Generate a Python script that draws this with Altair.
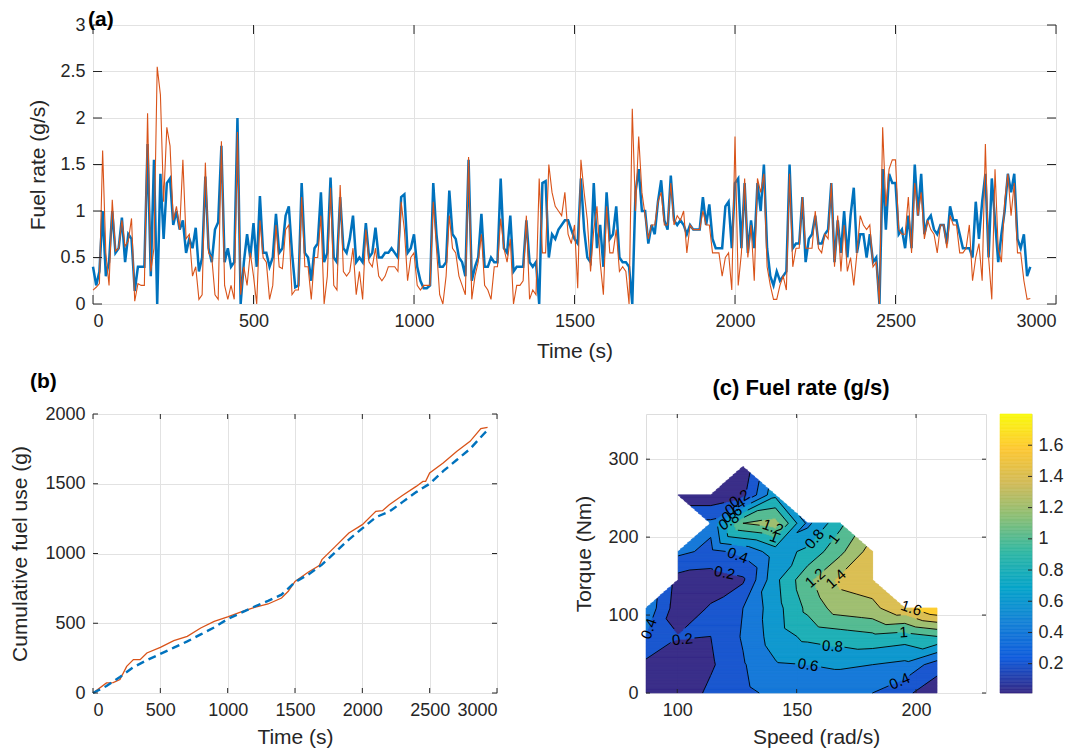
import bisect
import math

import altair as alt
import numpy as np
import pandas as pd

FONT = "Liberation Sans"
INK = "#262626"
GRID = "#e2e2e2"
BLUE = "#0072BD"
ORANGE = "#D95319"

# ---------------- (a) fuel rate time series (sampled every 10 s) ----------------
a_time = list(range(0, 2921, 10))
a_blue = [
    0.40, 0.20, 0.35, 1.00, 0.30, 0.45, 1.00, 0.55, 0.60, 0.93,
    0.45, 0.75, 0.70, 0.14, 0.40, 0.40, 0.40, 1.72, 0.30, 1.55,
    0.00, 1.40, 0.70, 1.30, 1.35, 0.85, 1.00, 0.80, 0.90, 0.55,
    0.70, 0.60, 0.82, 0.35, 0.50, 1.37, 0.60, 0.45, 0.80, 0.88,
    1.70, 0.45, 0.60, 0.40, 0.45, 2.00, 0.00, 0.45, 0.75, 0.50,
    0.87, 0.40, 1.16, 0.55, 0.55, 0.40, 0.50, 0.97, 0.55, 0.60,
    0.95, 1.05, 0.55, 0.18, 0.20, 1.30, 0.55, 0.50, 0.25, 0.60,
    0.65, 1.20, 0.45, 0.55, 1.36, 0.50, 0.45, 1.15, 0.60, 0.55,
    0.70, 0.95, 0.45, 0.50, 0.45, 0.87, 0.50, 0.55, 0.82, 0.50,
    0.50, 0.55, 0.55, 0.60, 0.55, 0.50, 1.15, 1.18, 0.55, 0.60,
    0.75, 0.40, 0.25, 0.17, 0.17, 0.20, 1.30, 0.75, 0.40, 0.40,
    0.45, 1.22, 0.75, 0.70, 0.50, 0.45, 0.30, 1.55, 0.25, 0.40,
    0.50, 0.97, 0.40, 0.40, 0.50, 0.45, 0.45, 1.35, 0.60, 0.55,
    0.95, 0.35, 0.40, 0.40, 0.40, 0.90, 0.45, 0.40, 0.45, 0.00,
    1.30, 1.32, 0.50, 0.75, 0.70, 0.80, 0.85, 0.90, 0.90, 0.80,
    0.70, 0.65, 1.35, 0.80, 0.50, 0.45, 1.30, 0.60, 0.85, 0.40,
    1.20, 0.70, 0.75, 1.05, 0.50, 0.45, 0.45, 0.40, 0.00, 1.20,
    1.45, 1.00, 1.00, 0.65, 0.85, 0.75, 1.10, 1.33, 0.90, 0.80,
    1.38, 0.90, 0.85, 0.90, 0.85, 0.75, 0.85, 0.80, 0.80, 0.80,
    1.15, 0.85, 1.07, 0.70, 0.60, 0.60, 0.60, 1.05, 1.10, 0.60,
    1.30, 1.35, 0.60, 1.30, 0.55, 0.90, 0.60, 1.30, 1.00, 1.50,
    0.60, 0.30, 0.20, 0.35, 0.25, 0.30, 0.35, 1.50, 0.60, 0.65,
    0.65, 1.15, 0.45, 0.70, 0.75, 0.95, 0.65, 0.65, 0.75, 0.80,
    1.30, 0.45, 0.90, 0.55, 1.00, 0.50, 0.95, 1.25, 0.55, 0.75,
    0.75, 0.50, 0.75, 0.45, 0.50, 0.00, 1.45, 0.80, 1.40, 1.30,
    1.30, 0.75, 0.80, 0.60, 0.95, 0.60, 1.50, 0.95, 1.40, 0.75,
    0.90, 0.95, 0.80, 0.75, 0.85, 0.85, 0.65, 1.05, 0.90, 0.90,
    0.75, 0.60, 0.60, 0.60, 0.50, 1.10, 0.70, 1.10, 1.40, 0.50,
    1.35, 0.90, 0.45, 0.75, 1.00, 1.40, 1.20, 1.40, 0.70, 0.60,
    0.75, 0.30, 0.40,
]
a_orange = [
    0.15, 0.18, 0.22, 1.65, 0.55, 0.20, 1.12, 0.57, 0.60, 0.90,
    0.62, 0.68, 0.92, 0.03, 0.22, 0.20, 0.20, 2.05, 0.35, 0.60,
    2.55, 2.25, 1.10, 1.90, 1.70, 0.90, 1.05, 0.80, 1.55, 0.70,
    0.75, 0.30, 0.40, 0.05, 0.10, 1.52, 0.55, 0.50, 0.10, 0.05,
    1.75, 0.20, 0.05, 0.20, 0.05, 1.85, 0.10, 0.40, 0.20, 0.55,
    0.30, 0.00, 0.90, 0.50, 0.45, 0.05, 0.20, 0.85, 0.40, 0.38,
    0.80, 0.85, 0.10, 0.15, 0.15, 1.15, 0.40, 0.40, 0.05, 0.50,
    0.50, 0.95, 0.00, 0.30, 1.25, 0.20, 0.15, 1.28, 0.35, 0.30,
    0.35, 0.60, 0.10, 0.35, 0.05, 0.80, 0.45, 0.40, 0.60, 0.30,
    0.25, 0.30, 0.40, 0.40, 0.40, 0.35, 1.10, 0.80, 0.25, 0.50,
    0.55, 0.20, 0.15, 0.20, 0.20, 0.20, 1.10, 0.60, 0.10, 0.00,
    0.30, 0.95, 0.60, 0.55, 0.30, 0.20, 0.10, 1.58, 0.05, 0.30,
    0.45, 0.75, 0.20, 0.15, 0.05, 0.40, 0.40, 0.92, 0.60, 0.45,
    0.70, 0.00, 0.20, 0.20, 0.25, 0.95, 0.05, 0.15, 0.10, 1.35,
    0.55, 0.55, 1.50, 1.20, 1.05, 1.00, 0.95, 1.20, 0.75, 0.65,
    0.85, 0.17, 1.55, 1.20, 0.90, 0.35, 0.80, 1.05, 0.45, 0.10,
    1.05, 0.55, 0.55, 0.80, 0.35, 0.40, 0.35, 0.00, 2.10, 1.00,
    1.80, 1.20, 0.95, 0.70, 0.85, 0.85, 1.10, 1.20, 0.85, 0.85,
    1.30, 0.85, 0.95, 0.90, 1.00, 0.55, 0.85, 0.80, 0.80, 0.80,
    1.00, 0.85, 0.85, 0.55, 0.55, 0.55, 0.30, 0.50, 0.55, 0.15,
    1.80, 0.20, 0.55, 1.35, 0.50, 0.85, 0.25, 1.35, 1.20, 1.40,
    0.40, 0.20, 0.05, 0.05, 0.20, 0.30, 0.15, 1.40, 0.40, 0.60,
    0.60, 1.15, 0.60, 0.60, 0.60, 1.00, 0.60, 0.55, 0.75, 0.70,
    1.30, 0.40, 0.95, 0.35, 0.85, 0.35, 0.50, 0.20, 0.55, 0.95,
    0.85, 0.80, 0.85, 0.40, 0.45, 0.00, 1.90, 1.05, 1.45, 1.55,
    1.55, 0.80, 0.75, 0.75, 1.15, 0.55, 1.30, 0.95, 1.20, 0.70,
    0.90, 0.80, 0.75, 0.55, 0.85, 0.85, 0.60, 0.95, 0.85, 0.85,
    0.55, 0.55, 0.60, 0.85, 0.25, 0.50, 0.65, 0.25, 1.72, 0.50,
    0.05, 1.45, 0.60, 0.45, 1.10, 1.40, 0.95, 1.30, 0.55, 0.55,
    0.25, 0.05, 0.06,
]
a_xticks = [0, 500, 1000, 1500, 2000, 2500, 3000]
a_yticks = [0, 0.5, 1, 1.5, 2, 2.5, 3]

# ---------------- (b) cumulative fuel use ----------------
b_time_orange = [0, 100, 150, 200, 250, 300, 350, 400, 500, 600, 700, 800, 900, 1000,
                 1100, 1200, 1300, 1400, 1450, 1500, 1600, 1680, 1700, 1800, 1900,
                 2000, 2100, 2150, 2200, 2300, 2400, 2450, 2470, 2500, 2600, 2700,
                 2800, 2880, 2930]
b_orange = [0, 72, 75, 96, 191, 239, 239, 287, 327, 375, 406, 466, 514, 545,
            581, 614, 638, 681, 729, 800, 867, 913, 956, 1051, 1147,
            1207, 1302, 1307, 1350, 1417, 1481, 1517, 1517, 1577, 1649, 1732,
            1804, 1895, 1904]
b_time_blue = [0, 100, 200, 300, 400, 500, 600, 700, 800, 900, 1000, 1100, 1200,
               1300, 1400, 1500, 1600, 1700, 1800, 1900, 2000, 2100, 2200, 2300,
               2400, 2500, 2600, 2700, 2800, 2900, 2926]
b_blue = [0, 50, 115, 185, 235, 280, 325, 370, 420, 470, 530, 575, 620,
          660, 705, 795, 850, 920, 1010, 1100, 1180, 1260, 1300, 1370,
          1440, 1500, 1590, 1670, 1750, 1855, 1880]
b_xticks = [0, 500, 1000, 1500, 2000, 2500, 3000]
b_yticks = [0, 500, 1000, 1500, 2000]

# ---------------- (c) fuel-rate map (node values, None = no data) ----------------
c_speed = [86.9, 100.4, 114.0, 127.5, 141.1, 154.6, 168.2, 181.7, 195.3, 208.8]
c_torque = [0, 36.3, 72.6, 108.9, 145.2, 181.5, 217.8, 254.1, 290.4]
N = None
c_fuel = [
    [0.05, 0.15, 0.40, 0.55, N, N, N, N, N],
    [0.05, 0.12, 0.21, 0.08, 0.12, 0.45, N, 0.05, N],
    [0.25, 0.17, 0.20, 0.22, 0.10, 0.35, 0.45, 0.05, N],
    [0.35, 0.38, 0.42, 0.40, 0.17, 0.45, 1.20, 0.15, 0.05],
    [0.45, 0.58, 0.70, 0.72, 0.75, 0.70, 1.30, 0.75, N],
    [0.50, 0.60, 0.85, 1.05, 1.15, 0.85, 0.55, N, N],
    [0.50, 0.62, 0.90, 1.30, 1.45, 1.15, 0.95, N, N],
    [0.40, 0.60, 0.95, 1.35, 1.50, 1.50, N, N, N],
    [0.25, 0.55, 0.90, 1.55, N, N, N, N, N],
    [0.05, 0.30, 1.00, 1.80, N, N, N, N, N],
]
c_levels = [0.2, 0.4, 0.6, 0.8, 1.0, 1.2, 1.4, 1.6]
c_zmin, c_zmax = 0.012, 1.8
# contour label anchors: (level, speed, torque)
c_labels = [
    (0.2, 126.5, 247), (0.4, 124.5, 238), (0.6, 123.0, 229), (0.8, 121.5, 221),
    (1.2, 140.4, 216), (1.0, 140.4, 199), (0.8, 155.8, 202), (1.0, 165.6, 198),
    (0.4, 124.4, 169), (0.2, 119.5, 150), (1.2, 156.5, 152), (1.4, 166.9, 145),
    (1.6, 193.4, 103), (1.0, 194.8, 79), (0.8, 164.9, 54), (0.6, 154.4, 29),
    (0.4, 193.4, 13), (0.4, 93.0, 77), (0.2, 102.0, 73),
]
c_xticks = [100, 150, 200]
c_yticks = [0, 100, 200, 300]
cbar_ticks = [0.2, 0.4, 0.6, 0.8, 1.0, 1.2, 1.4, 1.6]
parula = ["#352a87", "#0f5cdd", "#1481d6", "#06a4ca", "#2eb7a4",
          "#87bf77", "#d1bb59", "#fec832", "#f9fb0e"]

# ---------------- layout sizes ----------------
WA, HA = 963, 279
WB, HB = 404, 279
WC, HC = 340, 279
WCB = 32
CX = [86.9, 229.3]
CY = [0, 358]


def axis(**kw):
    base = dict(grid=True, gridColor=GRID, ticks=False, tickSize=0, domain=False,
                labelFont=FONT, labelFontSize=18, labelColor=INK, labelPadding=8,
                titleFont=FONT, titleFontSize=21, titleFontWeight="normal",
                titleColor=INK, titleBaseline="middle", format="~g")
    base.update(kw)
    return alt.Axis(**base)


def inward_ticks(xvals, yvals, xenc, yenc, W, H, L, right=True, top=True, left=True, bottom=True):
    """xenc/yenc: dicts with scale, title and axis shared with the main layer."""
    xdf = pd.DataFrame({"tv": xvals})
    ydf = pd.DataFrame({"tv": yvals})
    out = []
    if bottom:
        out.append(alt.Chart(xdf).mark_rule(color=INK, strokeWidth=1).encode(
            x=alt.X("tv:Q", **xenc), y=alt.value(H), y2=alt.value(H - L)))
    if top:
        out.append(alt.Chart(xdf).mark_rule(color=INK, strokeWidth=1).encode(
            x=alt.X("tv:Q", **xenc), y=alt.value(0), y2=alt.value(L)))
    if left:
        out.append(alt.Chart(ydf).mark_rule(color=INK, strokeWidth=1).encode(
            y=alt.Y("tv:Q", **yenc), x=alt.value(0), x2=alt.value(L)))
    if right:
        out.append(alt.Chart(ydf).mark_rule(color=INK, strokeWidth=1).encode(
            y=alt.Y("tv:Q", **yenc), x=alt.value(W - L), x2=alt.value(W)))
    return out


def label(text, px, py, size=21, bold=True, align="left"):
    return alt.Chart(pd.DataFrame({"t": [text]})).mark_text(
        font=FONT, fontSize=size, fontWeight="bold" if bold else "normal",
        align=align, baseline="middle", color="black").encode(
        text="t:N", x=alt.value(px), y=alt.value(py))


# ---------------- panel (a) ----------------
xa = dict(scale=alt.Scale(domain=[0, 3000], nice=False, zero=False), title="Time (s)",
          axis=axis(values=a_xticks, titleY=47, format="d"))
ya = dict(scale=alt.Scale(domain=[0, 3], nice=False), title="Fuel rate (g/s)",
          axis=axis(values=a_yticks, titleX=-55))
df_a = pd.DataFrame({"t": a_time, "blue": a_blue, "orange": a_orange})
a_blue_line = alt.Chart(df_a).mark_line(color=BLUE, strokeWidth=2.5).encode(
    x=alt.X("t:Q", **xa), y=alt.Y("blue:Q", **ya))
a_orange_line = alt.Chart(df_a).mark_line(color=ORANGE, strokeWidth=1.1).encode(
    x=alt.X("t:Q", **xa), y=alt.Y("orange:Q", **ya))
panel_a = alt.layer(
    a_blue_line, a_orange_line,
    *inward_ticks(a_xticks, a_yticks, xa, ya, WA, HA, 9),
    label("(a)", -5, -5),
).properties(width=WA, height=HA)

# ---------------- panel (b) ----------------
xb = dict(scale=alt.Scale(domain=[0, 3000], nice=False, zero=False), title="Time (s)",
          axis=axis(values=b_xticks, titleY=44, format="d"))
yb = dict(scale=alt.Scale(domain=[0, 2000], nice=False), title="Cumulative fuel use (g)",
          axis=axis(values=b_yticks, titleX=-73, format="d"))
df_bo = pd.DataFrame({"t": b_time_orange, "v": b_orange})
df_bb = pd.DataFrame({"t": b_time_blue, "v": b_blue})
b_or = alt.Chart(df_bo).mark_line(color=ORANGE, strokeWidth=1.3).encode(
    x=alt.X("t:Q", **xb), y=alt.Y("v:Q", **yb))
b_bl = alt.Chart(df_bb).mark_line(color=BLUE, strokeWidth=2.4, strokeDash=[8, 5]).encode(
    x=alt.X("t:Q", **xb), y=alt.Y("v:Q", **yb))
panel_b = alt.layer(
    b_or, b_bl,
    *inward_ticks(b_xticks, b_yticks, xb, yb, WB, HB, 5),
    label("(b)", -63, -32),
).properties(width=WB, height=HB)

# ---------------- panel (c): piecewise-linear fill on the node triangulation ----------------
S, T, Z = c_speed, c_torque, c_fuel
cell_tris = {}
all_tris = []
for i in range(len(S) - 1):
    for j in range(len(T) - 1):
        BL, BR, TL, TR = (i, j), (i + 1, j), (i, j + 1), (i + 1, j + 1)
        ok = {k: Z[k[0]][k[1]] is not None for k in (BL, BR, TL, TR)}
        n = sum(ok.values())
        tris = []
        if n == 4:
            tris = [(BL, BR, TR), (BL, TR, TL)]
        elif n == 3:
            tris = [tuple(k for k in (BL, BR, TR, TL) if ok[k])]
        pts = [[(S[a], T[b], Z[a][b]) for (a, b) in tri] for tri in tris]
        cell_tris[(i, j)] = pts
        all_tris.extend(pts)


def interp(s, t):
    i = min(max(bisect.bisect_right(S, s) - 1, 0), len(S) - 2)
    j = min(max(bisect.bisect_right(T, t) - 1, 0), len(T) - 2)
    for (p1, p2, p3) in cell_tris[(i, j)]:
        det = (p2[1] - p3[1]) * (p1[0] - p3[0]) + (p3[0] - p2[0]) * (p1[1] - p3[1])
        l1 = ((p2[1] - p3[1]) * (s - p3[0]) + (p3[0] - p2[0]) * (t - p3[1])) / det
        l2 = ((p3[1] - p1[1]) * (s - p3[0]) + (p1[0] - p3[0]) * (t - p3[1])) / det
        l3 = 1 - l1 - l2
        if l1 >= -1e-9 and l2 >= -1e-9 and l3 >= -1e-9:
            return l1 * p1[2] + l2 * p2[2] + l3 * p3[2]
    return None


def band(v):
    rep = c_zmin
    for L in c_levels:
        if v >= L:
            rep = L
    return rep


ns = int(round((S[-1] - S[0]) / 0.5))
nt = int(round((T[-1] - T[0]) / 1.0))
ds = (S[-1] - S[0]) / ns
dt = (T[-1] - T[0]) / nt
rects = []
for jj in range(nt):
    t0, t1 = T[0] + jj * dt, T[0] + (jj + 1) * dt
    tc = 0.5 * (t0 + t1)
    run_start, run_val = None, None
    for ii in range(ns + 1):
        if ii < ns:
            sc = S[0] + (ii + 0.5) * ds
            v = interp(sc, tc)
            b = None if v is None else band(v)
        else:
            b = None
        if b != run_val:
            if run_val is not None:
                rects.append((S[0] + run_start * ds, S[0] + ii * ds, t0, t1, run_val))
            run_start, run_val = ii, b
df_fill = pd.DataFrame(rects, columns=["s0", "s1", "t0", "t1", "rep"])

# contour segments (marching triangles)
segs = []
for tri in all_tris:
    for L in c_levels:
        cross = []
        for a, b in ((0, 1), (1, 2), (2, 0)):
            za, zb = tri[a][2] - L, tri[b][2] - L
            if (za < 0) != (zb < 0):
                f = za / (za - zb)
                cross.append((tri[a][0] + f * (tri[b][0] - tri[a][0]),
                              tri[a][1] + f * (tri[b][1] - tri[a][1])))
        if len(cross) == 2:
            segs.append((L, cross[0], cross[1]))

kx = WC / (CX[1] - CX[0])
ky = HC / (CY[1] - CY[0])


def to_px(s, t):
    return ((s - CX[0]) * kx, (CY[1] - t) * ky)


lab_rows = []
for (L, s, t) in c_labels:
    px, py = to_px(s, t)
    best = None
    for (LL, p, q) in segs:
        if abs(LL - L) > 1e-9:
            continue
        ax, ay = to_px(*p)
        bx, by = to_px(*q)
        vx, vy = bx - ax, by - ay
        l2 = vx * vx + vy * vy
        u = 0.5 if l2 == 0 else max(0.0, min(1.0, ((px - ax) * vx + (py - ay) * vy) / l2))
        cx, cy = ax + u * vx, ay + u * vy
        d = math.hypot(px - cx, py - cy)
        if best is None or d < best[0]:
            best = (d, cx, cy, vx, vy)
    ang = 0.0
    if best is not None and best[0] < 30:
        _, px, py, vx, vy = best
        ang = math.degrees(math.atan2(vy, vx))
        if ang > 90:
            ang -= 180
        if ang <= -90:
            ang += 180
    txt = f"{L:g}"
    width = 15 * (0.556 * sum(ch.isdigit() for ch in txt) + 0.278 * txt.count("."))
    lab_rows.append(dict(s=CX[0] + px / kx, t=CY[1] - py / ky, txt=txt,
                         ang=ang % 360, px=px, py=py, r=width / 2 + 2))
df_lab = pd.DataFrame(lab_rows)

# cut the contour lines under the labels
line_rows = []
for (L, p, q) in segs:
    ax, ay = to_px(*p)
    bx, by = to_px(*q)
    nsub = 12
    keep = []
    for k in range(nsub):
        mx = ax + (k + 0.5) / nsub * (bx - ax)
        my = ay + (k + 0.5) / nsub * (by - ay)
        hide = any(math.hypot(mx - r["px"], my - r["py"]) < r["r"] for r in lab_rows)
        keep.append(not hide)
    k = 0
    while k < nsub:
        if keep[k]:
            k0 = k
            while k < nsub and keep[k]:
                k += 1
            f0, f1 = k0 / nsub, k / nsub
            line_rows.append(dict(
                s0=p[0] + f0 * (q[0] - p[0]), t0=p[1] + f0 * (q[1] - p[1]),
                s1=p[0] + f1 * (q[0] - p[0]), t1=p[1] + f1 * (q[1] - p[1])))
        else:
            k += 1
df_lines = pd.DataFrame(line_rows)

xc = dict(scale=alt.Scale(domain=CX, nice=False, zero=False), title="Speed (rad/s)",
          axis=axis(values=c_xticks, titleY=44, format="d"))
yc = dict(scale=alt.Scale(domain=CY, nice=False, zero=False), title="Torque (Nm)",
          axis=axis(values=c_yticks, titleX=-62, format="d"))
cscale = alt.Scale(domain=list(np.linspace(c_zmin, c_zmax, len(parula))),
                   range=parula, interpolate="rgb")

c_fill = alt.Chart(df_fill).mark_rect(strokeWidth=0.6).encode(
    x=alt.X("s0:Q", **xc), x2="s1:Q",
    y=alt.Y("t0:Q", **yc), y2="t1:Q",
    color=alt.Color("rep:Q", scale=cscale, legend=None),
    stroke=alt.Stroke("rep:Q", scale=cscale, legend=None),
)
c_cont = alt.Chart(df_lines).mark_rule(color="black", strokeWidth=0.9).encode(
    x=alt.X("s0:Q", **xc), x2="s1:Q", y=alt.Y("t0:Q", **yc), y2="t1:Q")
c_text = alt.Chart(df_lab).mark_text(font=FONT, fontSize=15, color="black",
                                     align="center", baseline="middle").encode(
    x=alt.X("s:Q", **xc), y=alt.Y("t:Q", **yc), text="txt:N",
    angle=alt.Angle("ang:Q", scale=None))
panel_c = alt.layer(
    c_fill, c_cont, c_text,
    *inward_ticks(c_xticks, c_yticks, xc, yc, WC, HC, 4),
    label("(c) Fuel rate (g/s)", 155, -26, size=22, align="center"),
).properties(width=WC, height=HC)

# ---------------- colour bar ----------------
cb_v = np.linspace(c_zmin, c_zmax, 201)
df_cb = pd.DataFrame({"v": cb_v[:-1], "v2": cb_v[1:]})
ycb = dict(scale=alt.Scale(domain=[c_zmin, c_zmax], nice=False, zero=False), title=None,
           axis=axis(values=cbar_ticks, orient="right", grid=False, labelPadding=6))
cb_rect = alt.Chart(df_cb).mark_rect(strokeWidth=0.6).encode(
    y=alt.Y("v:Q", **ycb), y2="v2:Q",
    x=alt.value(0), x2=alt.value(WCB),
    color=alt.Color("v:Q", scale=cscale, legend=None),
    stroke=alt.Stroke("v:Q", scale=cscale, legend=None),
)
cb_ticks = alt.Chart(pd.DataFrame({"tv": cbar_ticks})).mark_rule(color=INK, strokeWidth=1).encode(
    y=alt.Y("tv:Q", **ycb), x=alt.value(WCB - 4), x2=alt.value(WCB))
cbar = alt.layer(cb_rect, cb_ticks).properties(width=WCB, height=HC)

row2 = alt.hconcat(panel_b, alt.hconcat(panel_c, cbar, spacing=14, bounds="flush"),
                   spacing=149, bounds="flush")
chart = alt.vconcat(panel_a, row2, spacing=110, bounds="flush").properties(
    padding={"left": 0, "top": 0, "right": 0, "bottom": 0}
).configure_view(stroke=INK, strokeWidth=1).configure(font=FONT)

chart.save("out.html", embed_options={"renderer": "svg", "actions": False})
